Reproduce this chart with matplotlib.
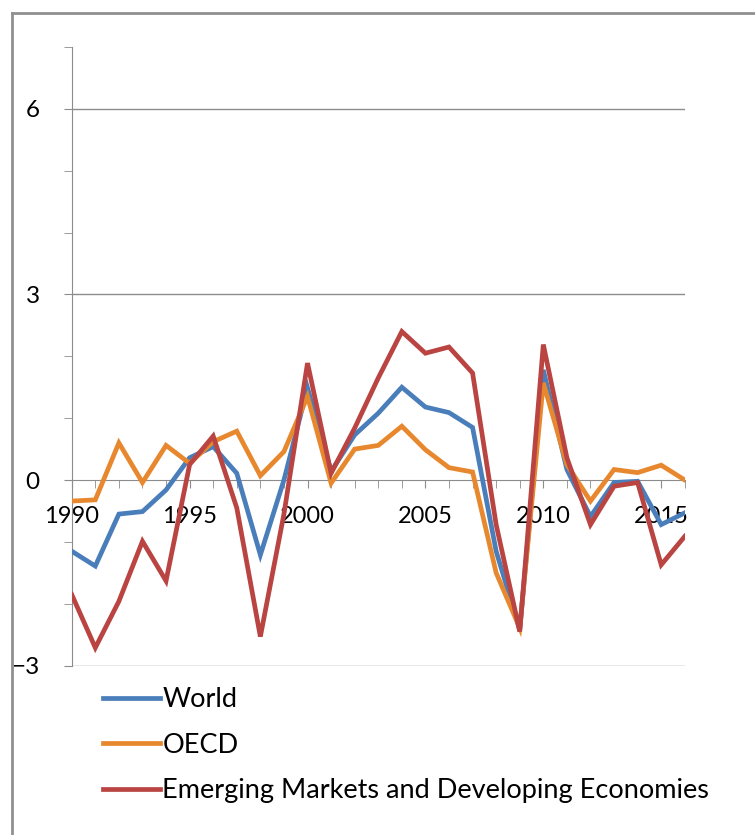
import matplotlib.pyplot as plt
from matplotlib.lines import Line2D
from matplotlib.ticker import MultipleLocator, FixedLocator
import numpy as np

years = np.arange(1990, 2017)
world = [-1.15, -1.39, -0.55, -0.51, -0.16, 0.36, 0.54, 0.11, -1.21, 0.0,
         1.49, 0.14, 0.73, 1.08, 1.50, 1.18, 1.09, 0.85, -1.15, -2.42,
         1.78, 0.17, -0.59, -0.04, -0.02, -0.72, -0.53]
oecd = [-0.34, -0.32, 0.60, -0.04, 0.56, 0.27, 0.62, 0.79, 0.07, 0.46,
        1.35, -0.05, 0.50, 0.56, 0.87, 0.49, 0.20, 0.13, -1.50, -2.39,
        1.57, 0.25, -0.34, 0.17, 0.12, 0.24, 0.0]
emde = [-1.85, -2.71, -1.96, -0.99, -1.63, 0.25, 0.71, -0.45, -2.53, -0.55,
        1.89, 0.11, 0.84, 1.65, 2.40, 2.05, 2.15, 1.73, -0.72, -2.45,
        2.19, 0.36, -0.72, -0.10, -0.04, -1.37, -0.91]
labels = ["World", "OECD", "Emerging Markets and Developing Economies"]
colors = ["#4A7EBB", "#E8882E", "#B94441"]

plt.rcParams['font.family'] = ['Lato', 'DejaVu Sans']
fig = plt.figure(figsize=(7.55, 8.35), dpi=100)
ax = fig.add_axes([0.095, 0.2028, 0.812, 0.741])

for s, lab, c in zip([world, oecd, emde], labels, colors):
    ax.plot(years, s, color=c, lw=3.4, label=lab, zorder=3, solid_joinstyle='miter')

grey = "#8C8C8C"
ax.set_xlim(1990, 2016)
ax.set_ylim(-3, 7)
ax.yaxis.set_major_locator(FixedLocator([-3, 0, 3, 6]))
ax.yaxis.set_minor_locator(FixedLocator([-2, -1, 1, 2, 4, 5, 7]))
ax.xaxis.set_minor_locator(MultipleLocator(1))
ax.set_xticks(range(1990, 2016, 5))
for y in [-3, 3, 6]:
    ax.axhline(y, color=grey, lw=1, zorder=1)

for sp in ['top', 'right']:
    ax.spines[sp].set_visible(False)
ax.spines['left'].set_color(grey)
ax.spines['bottom'].set_color(grey)
ax.spines['bottom'].set_position(('data', 0))
ax.tick_params(axis='y', which='both', length=6, color=grey, labelsize=17.5, pad=17)
ax.tick_params(axis='x', which='both', length=6, color=grey, labelsize=17, pad=13)

fig.legend(loc='upper left', bbox_to_anchor=(0.136, 0.177), frameon=False,
           fontsize=19.5, handlelength=2.1, handletextpad=0.1, labelspacing=0.76,
           borderaxespad=0, borderpad=0)

fig.add_artist(Line2D([0.016, 1.0], [0.9844, 0.9844], color="#909090", lw=2))
fig.add_artist(Line2D([0.016, 0.016], [0.0, 0.9844], color="#909090", lw=2))

fig.savefig("out.png", dpi=100)
